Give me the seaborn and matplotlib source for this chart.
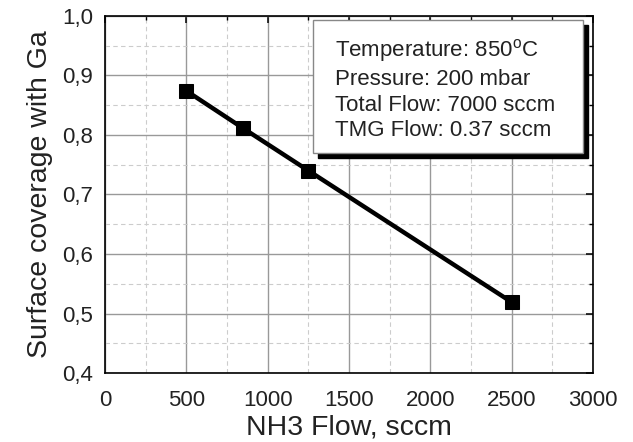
import matplotlib
matplotlib.use("Agg")
import matplotlib.pyplot as plt
import seaborn as sns
import pandas as pd
from matplotlib.ticker import MultipleLocator, FuncFormatter
from matplotlib.patches import Rectangle

nh3_flow = [500, 850, 1250, 2500]
coverage = [0.874, 0.811, 0.740, 0.519]
x_label = "NH3 Flow, sccm"
y_label = "Surface coverage with Ga"
info_lines = ["Temperature: 850$^{\\mathregular{o}}$C", "Pressure: 200 mbar",
              "Total Flow: 7000 sccm", "TMG Flow: 0.37 sccm"]

sns.set_theme(style="white")
plt.rcParams['font.family'] = ['Liberation Sans', 'DejaVu Sans']
plt.rcParams['mathtext.fontset'] = 'custom'
plt.rcParams['mathtext.rm'] = 'Liberation Sans'

df = pd.DataFrame({"x": nh3_flow, "y": coverage})

fig = plt.figure(figsize=(6.33, 4.42), dpi=100)
ax = fig.add_axes([0.166, 0.156, 0.771, 0.808])

ax.set_xlim(0, 3000)
ax.set_ylim(0.4, 1.0)
ax.xaxis.set_major_locator(MultipleLocator(500))
ax.xaxis.set_minor_locator(MultipleLocator(250))
ax.yaxis.set_major_locator(MultipleLocator(0.1))
ax.yaxis.set_minor_locator(MultipleLocator(0.05))
ax.yaxis.set_major_formatter(FuncFormatter(lambda v, p: f"{v:.1f}".replace(".", ",")))

ax.grid(which="major", color="#999999", linewidth=1.0, linestyle="-")
ax.grid(which="minor", color="#cccccc", linewidth=0.8, linestyle=(0, (4, 3)))
ax.set_axisbelow(True)

sns.lineplot(data=df, x="x", y="y", ax=ax, color="black", linewidth=3.2,
             marker="s", markersize=10.5, markeredgecolor="black", zorder=5)

for s in ax.spines.values():
    s.set_color("black")
    s.set_linewidth(1.2)

ax.tick_params(axis="both", which="major", labelsize=16, color="black",
               length=5, width=1.1, direction="out", labelcolor="#222222")
ax.tick_params(axis="x", which="major", pad=7)
ax.tick_params(axis="both", which="minor", length=3, width=1.0, direction="out", color="black")
ax.tick_params(which="both", top=True, right=True)
for t in ax.xaxis.get_major_ticks() + ax.xaxis.get_minor_ticks():
    t.tick2line.set_marker(3)
for t in ax.yaxis.get_major_ticks() + ax.yaxis.get_minor_ticks():
    t.tick2line.set_marker(0)

ax.set_xlabel(x_label, fontsize=20.5, color="#222222", labelpad=3)
ax.set_ylabel(y_label, fontsize=20.5, color="#222222", labelpad=7)

x0 = (313 - 105) / 488
x1 = (583 - 105) / 488
yt = 1 - (20 - 16) / 357
yb = 1 - (153 - 16) / 357
sx, sy = 5 / 488, 5 / 357
ax.add_patch(Rectangle((x0 + sx, yb - sy), x1 - x0, yt - yb, transform=ax.transAxes,
                       facecolor="black", edgecolor="black", zorder=6, clip_on=False))
ax.add_patch(Rectangle((x0, yb), x1 - x0, yt - yb, transform=ax.transAxes,
                       facecolor="white", edgecolor="#888888", linewidth=1, zorder=7, clip_on=False))
ax.text(x0 + 22 / 488, yt - 17 / 357, "\n".join(info_lines), transform=ax.transAxes,
        ha="left", va="top", fontsize=16, color="#222222", linespacing=1.3, zorder=8)

fig.savefig("out.png", dpi=100)
